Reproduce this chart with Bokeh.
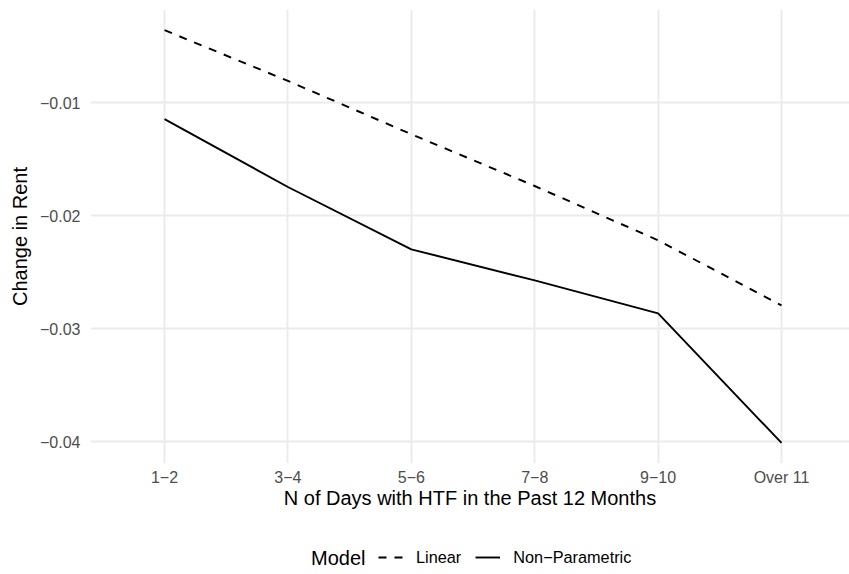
from bokeh.plotting import figure
from bokeh.layouts import column
from bokeh.models import (Range1d, FixedTicker, Legend, LegendItem, Label,
                          ColumnDataSource)
from bokeh.embed import file_html
from bokeh.resources import INLINE

# ---- data ----
categories = ["1\u22122", "3\u22124", "5\u22126", "7\u22128", "9\u221210", "Over 11"]
linear = [-0.00359, -0.00808, -0.01280, -0.01738, -0.02219, -0.02795]
non_parametric = [-0.01147, -0.01747, -0.02299, -0.02573, -0.02865, -0.04012]
y_ticks = [-0.04, -0.03, -0.02, -0.01]
y_tick_labels = ["\u22120.04", "\u22120.03", "\u22120.02", "\u22120.01"]
series_names = ["Linear", "Non\u2212Parametric"]
legend_title = "Model"
x_title = "N of Days with HTF in the Past 12 Months"
y_title = "Change in Rent"

x_pos = list(range(1, len(categories) + 1))

FONT = "Liberation Sans"
LW = 1.94
DASH = "8 8"

p = figure(width=849, height=530, output_backend="svg", toolbar_location=None,
           x_range=Range1d(0.4, 6.551), y_range=Range1d(-0.041941, -0.001761),
           min_border_left=90, min_border_right=0, min_border_top=9,
           min_border_bottom=67)
p.outline_line_color = None
p.background_fill_color = "white"
p.border_fill_color = "white"

src = ColumnDataSource(dict(x=x_pos, lin=linear, np=non_parametric))
r_lin = p.line("x", "lin", source=src, line_color="black", line_width=LW,
               line_dash=DASH, line_join="round")
r_np = p.line("x", "np", source=src, line_color="black", line_width=LW,
              line_join="round")

# axes
p.xaxis.ticker = FixedTicker(ticks=x_pos)
p.xaxis.major_label_overrides = {x: c for x, c in zip(x_pos, categories)}
p.yaxis.ticker = FixedTicker(ticks=y_ticks)
p.yaxis.major_label_overrides = {t: l for t, l in zip(y_ticks, y_tick_labels)}
for ax in (p.xaxis, p.yaxis):
    ax.axis_line_color = None
    ax.major_tick_line_color = None
    ax.minor_tick_line_color = None
    ax.major_tick_out = 0
    ax.major_tick_in = 0
    ax.major_label_text_font = FONT
    ax.major_label_text_font_size = "16px"
    ax.major_label_text_color = "#4D4D4D"
    ax.axis_label_text_font = FONT
    ax.axis_label_text_font_size = "20px"
    ax.axis_label_text_font_style = "normal"
    ax.axis_label_text_color = "black"
p.xaxis.axis_label = x_title
p.yaxis.axis_label = y_title
p.xaxis.major_label_standoff = 5
p.xaxis.axis_label_standoff = -2
p.yaxis.major_label_standoff = 10
p.yaxis.axis_label_standoff = 6

# grid
p.xgrid.grid_line_color = "#EBEBEB"
p.ygrid.grid_line_color = "#EBEBEB"
p.xgrid.grid_line_width = LW
p.ygrid.grid_line_width = LW
p.xgrid.ticker = FixedTicker(ticks=x_pos)
p.ygrid.ticker = FixedTicker(ticks=y_ticks)

# legend strip below the plot: the same series are drawn outside its view,
# so only their legend keys show
q = figure(width=849, height=44, output_backend="svg", toolbar_location=None,
           x_range=Range1d(10, 11), y_range=Range1d(10, 11),
           x_axis_type=None, y_axis_type=None,
           min_border_left=0, min_border_right=0, min_border_top=0,
           min_border_bottom=0)
q.outline_line_color = None
q.xgrid.visible = False
q.ygrid.visible = False
k_lin = q.line("x", "lin", source=src, line_color="black", line_width=LW,
               line_dash=DASH)
k_np = q.line("x", "np", source=src, line_color="black", line_width=LW)

legend = Legend(items=[LegendItem(label=series_names[0], renderers=[k_lin]),
                       LegendItem(label=series_names[1], renderers=[k_np])],
                orientation="horizontal", location=(288, 7),
                padding=0, margin=0, border_line_color=None,
                background_fill_alpha=0, glyph_width=25, glyph_height=20,
                label_height=20, label_standoff=13, spacing=14,
                label_text_font=FONT, label_text_font_size="16.3px",
                label_text_color="black")
q.add_layout(legend, "center")

title_lbl = Label(x=220.5, y=17, x_units="screen", y_units="screen",
                  text=legend_title, text_font=FONT, text_font_size="20px",
                  text_color="black", text_baseline="middle", text_align="left")
q.add_layout(title_lbl)

layout = column(p, q, spacing=0)
open("out.html", "w").write(file_html(layout, INLINE))
